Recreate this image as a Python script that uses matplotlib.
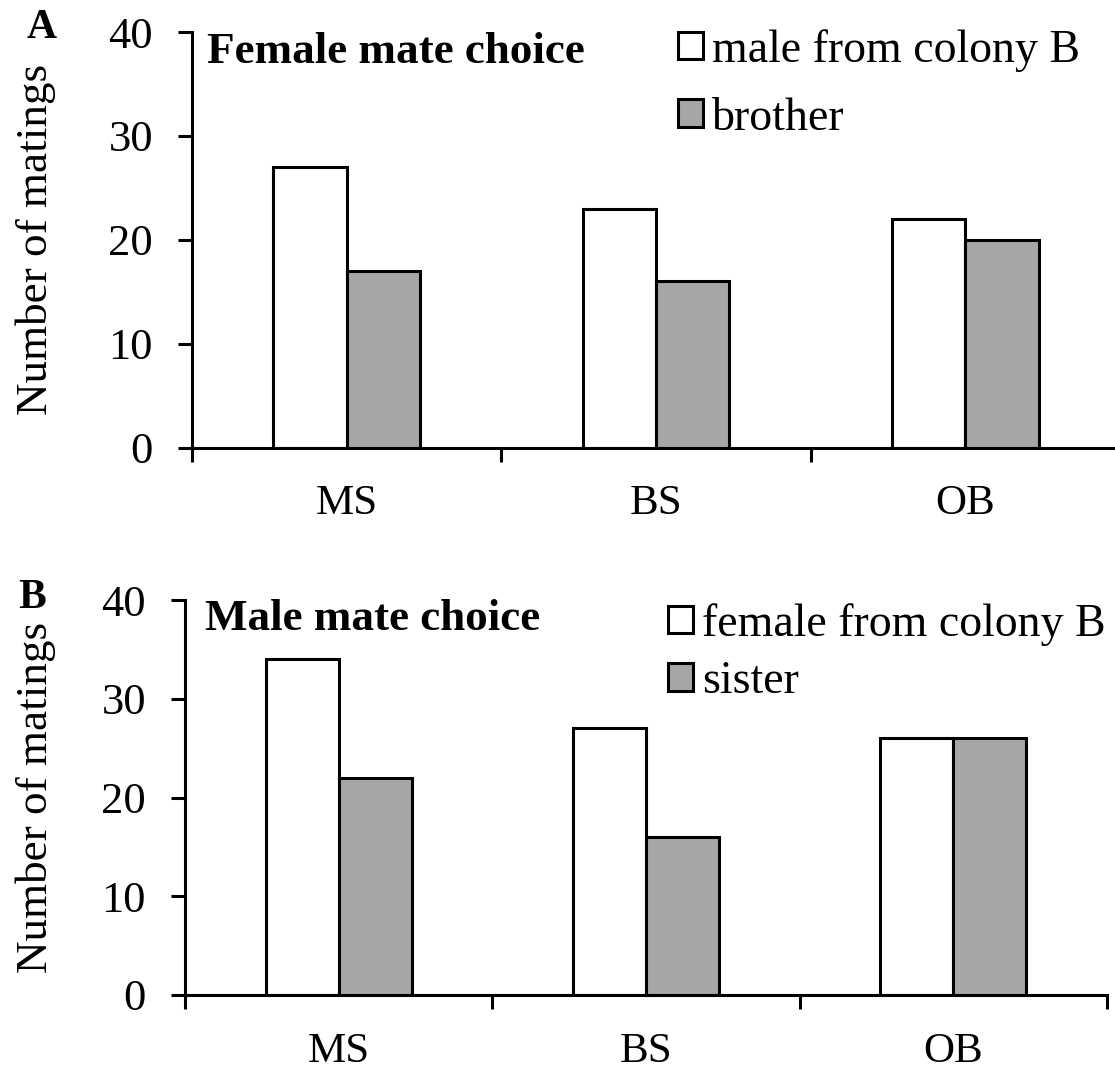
import matplotlib
matplotlib.use('Agg')
import matplotlib.pyplot as plt
import numpy as np

plt.rcParams['font.family'] = ['Liberation Serif', 'DejaVu Serif']

# Dados
categorias = ['MS', 'BS', 'OB']
femea_colonia_b = [27, 23, 22]
femea_irmao = [17, 16, 20]
macho_colonia_b = [34, 27, 26]
macho_irma = [22, 16, 26]

W, H = 1115, 1070
fig = plt.figure(figsize=(W / 100, H / 100), dpi=100)

cor_cinza = '#a6a6a6'
lw = 2.2


def painel(pos, branco, cinza, lab_branco, lab_cinza, titulo, letra, tit_xy, letra_xy, leg_xy, leg_spacing):
    ax = fig.add_axes(pos)
    x = np.arange(len(categorias)) + 0.5
    w = 0.237
    ax.bar(x - w / 2, branco, w, facecolor='white', edgecolor='black', linewidth=lw,
           label=lab_branco)
    ax.bar(x + w / 2, cinza, w, facecolor=cor_cinza, edgecolor='black', linewidth=lw,
           label=lab_cinza)
    ax.set_xlim(0, 3)
    ax.set_ylim(0, 40)
    ax.set_yticks([0, 10, 20, 30, 40])
    ax.set_xticks([0, 1, 2, 3])
    ax.set_xticklabels([])
    ax.set_xticks(x, minor=True)
    ax.set_xticklabels(categorias, minor=True)
    ax.tick_params(axis='x', which='minor', length=0, pad=27, labelsize=31)
    ax.tick_params(axis='x', which='major', length=10, width=lw, direction='out')
    ax.tick_params(axis='y', length=10, width=lw, direction='out', pad=18, labelsize=32)
    for s in ['top', 'right']:
        ax.spines[s].set_visible(False)
    for s in ['left', 'bottom']:
        ax.spines[s].set_linewidth(lw)
    ax.set_ylabel('Number of matings', fontsize=32.5)
    ax.yaxis.set_label_coords((56 - pos[0] * W) / (pos[2] * W), 0.5)

    fig.text(tit_xy[0] / W, 1 - tit_xy[1] / H, titulo, fontsize=32.5, fontweight='bold',
             ha='left', va='center')
    fig.text(letra_xy[0] / W, 1 - letra_xy[1] / H, letra, fontsize=30, fontweight='bold',
             ha='left', va='center')
    fig.legend(loc='upper left', bbox_to_anchor=(leg_xy[0] / W, 1 - leg_xy[1] / H),
               handles=ax.containers, labels=[lab_branco, lab_cinza],
               frameon=False, fontsize=33, handlelength=0.55, handleheight=0.55,
               handletextpad=0.2, borderpad=0, borderaxespad=0,
               labelspacing=leg_spacing)
    return ax


# Painel A
painel([192 / W, 1 - 447.5 / H, 928 / W, 415.5 / H],
       femea_colonia_b, femea_irmao, 'male from colony B', 'brother',
       'Female mate choice', 'A', (207, 52), (27, 28), (678, 29), 0.55)

# Painel B
painel([185 / W, 1 - 995 / H, 922 / W, 395 / H],
       macho_colonia_b, macho_irma, 'female from colony B', 'sister',
       'Male mate choice', 'B', (205, 619), (18, 598), (668, 603), 0.32)

fig.savefig('out.png', dpi=100, facecolor='white')
